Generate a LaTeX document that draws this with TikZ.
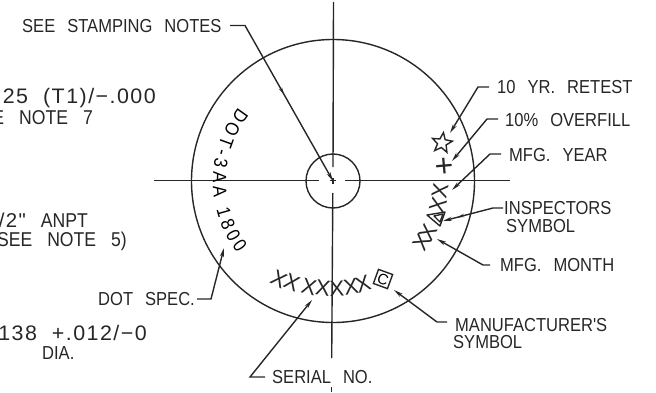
\documentclass[tikz,border=0pt]{standalone}
\usepackage{fontspec}
\setmainfont{Liberation Sans}
\newfontfamily\cadfont[FakeStretch=0.88]{Liberation Sans}
\newfontfamily\numfont[FakeStretch=1.02,LetterSpace=7]{Liberation Sans}
\newcommand{\gap}{\hspace{12pt}}
\newcommand{\biggap}{\hspace{15pt}}
\usetikzlibrary{arrows.meta,shapes,decorations.text,decorations.markings}

\begin{document}
\begin{tikzpicture}[x=1pt,y=1pt]
	\tikzset{
		ink/.style={draw=black!85,line width=1.4pt},
		leader/.style={ink,-{Stealth[length=9pt,width=4pt]}},
		midtip/.style={postaction={decorate},decoration={markings,mark=at position #1 with {\arrow{Stealth[length=7pt,width=3.5pt]}}}},
		txt/.style={font=\cadfont\fontsize{18.8}{18.8}\selectfont,text=black!85,inner sep=0pt,text height=13pt,text depth=0pt},
		bigtxt/.style={txt,font=\cadfont\fontsize{20}{20}\selectfont},
		numtxt/.style={txt,font=\numfont\fontsize{21}{21}\selectfont,text height=15pt},
		stamp/.style={font=\fontsize{22}{22}\selectfont,text=black!85,inner sep=0pt}
	}
	\useasboundingbox (0,0) rectangle (656,392);

	% disc
	\coordinate (hub) at (333,211);
	\draw[ink] (hub) circle (141.5);
	\draw[ink] (hub) circle (27);

	% centre lines
	\draw[ink] (333.5,390) -- (333,225);
	\draw[ink] (332.8,199) -- (331.7,34);
	\draw[ink] (331.7,5) -- (331.7,0);
	\draw[ink] (154,211.5) -- (319,211.5);
	\draw[ink] (345,211.5) -- (510,211.5);
	\draw[ink] (330,211.5) -- (336,211.5);
	\draw[ink] (333,208.5) -- (333,214.5);

	% text round the disc
	\path[decorate,decoration={text along path,text align={fit to path},
		text={|\cadfont\fontsize{19}{19}\selectfont|DOT-3AA 1800}}]
		(hub) ++(142:120) arc (142:217:120);

	% labels on the left
	\node[txt,anchor=west] (stamping) at (22,366) {SEE\gap STAMPING\gap NOTES};
	\node[numtxt,anchor=east] (tolA) at (156,296.5) {25\biggap (T1)/−.000};
	\node[bigtxt,anchor=east] (tolB) at (93,274) {E\biggap NOTE\biggap 7};
	\node[bigtxt,anchor=east] (portA) at (88,171) {{\numfont /2"}\biggap ANPT};
	\node[bigtxt,anchor=east] (portB) at (127,152) {SEE\biggap NOTE\biggap 5)};
	\node[txt,anchor=east] (dotspec) at (195,93) {DOT\gap SPEC.};
	\node[numtxt,anchor=east] (holeA) at (147,59) {138\biggap +.012/−0};
	\node[txt,anchor=west] (holeB) at (42,39) {DIA.};
	\node[txt,anchor=west] (serial) at (272,15) {SERIAL\gap NO.};

	% labels on the right
	\node[txt,anchor=west] (retest) at (497,305) {10\gap YR.\gap RETEST};
	\node[txt,anchor=west] (overfill) at (505,272) {10\%\gap OVERFILL};
	\node[txt,anchor=west] (year) at (509,237) {MFG.\gap YEAR};
	\node[txt,anchor=west] (inspA) at (504,184) {INSPECTORS};
	\node[txt,anchor=west] (inspB) at (506,166) {SYMBOL};
	\node[txt,anchor=west] (month) at (500,127) {MFG.\gap MONTH};
	\node[txt,anchor=west] (manfA) at (455,67) {MANUFACTURER'S};
	\node[txt,anchor=west] (manfB) at (453,50) {SYMBOL};

	% stamped marks
	\foreach \x/\y/\r in {279/113/-28,292/109/-24,309/105/-14,323/104/-8,337/103/2,351/105/10,363/108/18}{
		\node[stamp,rotate=\r] at (\x,\y) {X};
	}
	\foreach \x/\y/\r in {440/201/80,438/187/72,428/160/62,422/150/58}{
		\node[stamp,rotate=\r] at (\x,\y) {X};
	}
	\node[stamp,rotate=5,font=\fontsize{32}{32}\selectfont] (plus) at (444,225) {+};
	\node[ink,star,star points=5,star point ratio=2.3,minimum size=21pt,inner sep=0pt,rotate=-8] (starmark) at (442,249) {};
	\draw[ink,line join=round] (427,177) -- (445,180) -- (440,166) -- cycle;
	\draw[ink,line join=round] (434,176) -- (443,178) -- (440,170) -- cycle;
	\node[ink,minimum size=15pt,inner sep=0pt,rotate=-20,font=\fontsize{15}{15}\selectfont] (maker) at (383,113) {C};

	% leaders
	\coordinate (stampingA) at (230,366.5);
	\coordinate (stampingB) at (245,366.5);
	\draw[leader,midtip=0.485] (stampingA) -- (stampingB) -- (hub);
	\coordinate (retestA) at (489,305);
	\coordinate (retestB) at (478,305);
	\coordinate (retestC) at (450,259);
	\draw[leader] (retestA) -- (retestB) -- (retestC);
	\coordinate (overfillA) at (498,273);
	\coordinate (overfillB) at (487,273);
	\coordinate (overfillC) at (452,231);
	\draw[leader] (overfillA) -- (overfillB) -- (overfillC);
	\coordinate (yearA) at (501,238);
	\coordinate (yearB) at (490,238);
	\coordinate (yearC) at (452,202);
	\draw[leader] (yearA) -- (yearB) -- (yearC);
	\coordinate (inspC) at (503,184);
	\coordinate (inspD) at (493,184);
	\coordinate (inspE) at (443,171);
	\draw[leader,midtip=0.76] (inspC) -- (inspD) -- (inspE);
	\coordinate (monthA) at (490,127);
	\coordinate (monthB) at (483,127);
	\coordinate (monthC) at (437,153);
	\draw[leader] (monthA) -- (monthB) -- (monthC);
	\coordinate (manfC) at (447,70);
	\coordinate (manfD) at (437,70);
	\coordinate (manfE) at (394,102);
	\draw[leader] (manfC) -- (manfD) -- (manfE);
	\coordinate (serialA) at (265,15);
	\coordinate (serialB) at (250,15);
	\coordinate (serialC) at (312,92);
	\draw[leader] (serialA) -- (serialB) -- (serialC);
	\coordinate (dotspecA) at (197,93);
	\coordinate (dotspecB) at (211,93);
	\coordinate (dotspecC) at (224,144);
	\draw[leader] (dotspecA) -- (dotspecB) -- (dotspecC);
\end{tikzpicture}
\end{document}
